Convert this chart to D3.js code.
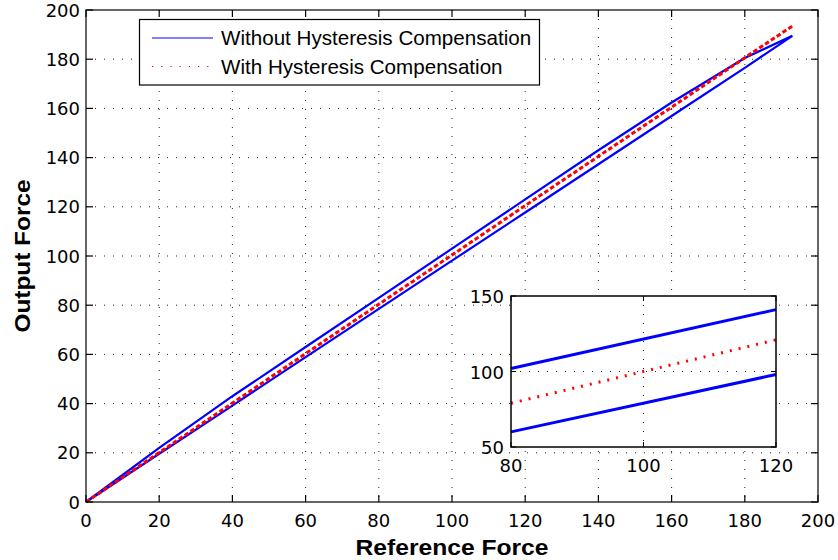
<!DOCTYPE html>
<html>
<head>
<meta charset="utf-8">
<script src="https://cdn.jsdelivr.net/npm/d3@7"></script>
<style>
  body { margin: 0; background: #fff; }
  text { font-family: "Liberation Sans", Arial, Helvetica, sans-serif; }
  .tick { font-family: "DejaVu Sans", sans-serif; font-size: 18px; }
</style>
</head>
<body>
<svg id="chart" width="838" height="560"></svg>
<script>
// main plot data
var refForce = [0, 20, 40, 60, 80, 100, 120, 140, 160, 180, 193];
var outLower = [0, 19.6, 39.2, 58.9, 78.5, 98.1, 117.7, 137.3, 156.9, 176.5, 189.5];
var outUpper = [0, 22, 43, 63, 83, 103, 123, 143, 162.4, 180.5, 189.5];
var outComp = [0, 20.1, 40.2, 60.3, 80.4, 100.4, 120.5, 140.5, 160.5, 180.6, 193.5];

// inset data
var insetRef = [80, 120];
var insetUpper = [102, 141];
var insetLower = [60, 98];
var insetComp = [79, 121];

var xTicks = [0, 20, 40, 60, 80, 100, 120, 140, 160, 180, 200];
var yTicks = [0, 20, 40, 60, 80, 100, 120, 140, 160, 180, 200];
var insetXTicks = [80, 100, 120];
var insetYTicks = [50, 100, 150];

var legendLabels = ["Without Hysteresis Compensation", "With Hysteresis Compensation"];

var svg = d3.select("#chart");
var pLeft = 86, pTop = 10, pRight = 818, pBottom = 502;

var x = d3.scaleLinear().domain([0, 200]).range([pLeft, pRight]);
var y = d3.scaleLinear().domain([0, 200]).range([pBottom, pTop]);

function pts(xs, ys) {
  return xs.map(function(v, i) { return [v, ys[i]]; });
}

// grid
var grid = svg.append("g").attr("stroke", "#222").attr("stroke-width", 1)
  .attr("stroke-dasharray", "1,8");
xTicks.slice(1, -1).forEach(function(t) {
  grid.append("line").attr("x1", x(t)).attr("x2", x(t)).attr("y1", pTop).attr("y2", pBottom);
});
yTicks.slice(1, -1).forEach(function(t) {
  grid.append("line").attr("x1", pLeft).attr("x2", pRight).attr("y1", y(t)).attr("y2", y(t));
});

var line = d3.line().x(function(d) { return x(d[0]); }).y(function(d) { return y(d[1]); });

// hysteresis loop: loading then unloading
var loop = pts(refForce, outLower).concat(pts(refForce, outUpper).reverse());
svg.append("path").attr("d", line(loop)).attr("fill", "none")
  .attr("stroke", "#0000ff").attr("stroke-width", 2.2);
svg.append("path").attr("d", line(pts(refForce, outComp))).attr("fill", "none")
  .attr("stroke", "#ff0000").attr("stroke-width", 3).attr("stroke-dasharray", "4.5,2.5");

// axes box with inward ticks on all sides
var axes = svg.append("g").attr("stroke", "#000").attr("stroke-width", 1.2);
axes.append("rect").attr("x", pLeft).attr("y", pTop).attr("width", pRight - pLeft).attr("height", pBottom - pTop)
  .attr("fill", "none");
xTicks.forEach(function(t) {
  axes.append("line").attr("x1", x(t)).attr("x2", x(t)).attr("y1", pBottom).attr("y2", pBottom - 7);
  axes.append("line").attr("x1", x(t)).attr("x2", x(t)).attr("y1", pTop).attr("y2", pTop + 7);
});
yTicks.forEach(function(t) {
  axes.append("line").attr("x1", pLeft).attr("x2", pLeft + 7).attr("y1", y(t)).attr("y2", y(t));
  axes.append("line").attr("x1", pRight).attr("x2", pRight - 7).attr("y1", y(t)).attr("y2", y(t));
});

svg.selectAll(".xlab").data(xTicks).enter().append("text").attr("class", "tick")
  .attr("x", function(d) { return x(d); }).attr("y", 527)
  .attr("text-anchor", "middle").text(function(d) { return d; });
svg.selectAll(".ylab").data(yTicks).enter().append("text").attr("class", "tick")
  .attr("x", 80).attr("y", function(d) { return y(d) + 6.5; })
  .attr("text-anchor", "end").text(function(d) { return d; });

svg.append("text").attr("x", (pLeft + pRight) / 2).attr("y", 555)
  .attr("text-anchor", "middle").attr("font-size", 22).attr("font-weight", "bold")
  .attr("textLength", 193).attr("lengthAdjust", "spacingAndGlyphs").text("Reference Force");
svg.append("text").attr("transform", "translate(30," + ((pTop + pBottom) / 2) + ") rotate(-90)")
  .attr("text-anchor", "middle").attr("font-size", 22).attr("font-weight", "bold")
  .attr("textLength", 153).attr("lengthAdjust", "spacingAndGlyphs").text("Output Force");

// legend
var lg = svg.append("g");
lg.append("rect").attr("x", 139.5).attr("y", 19.5).attr("width", 400).attr("height", 65.5)
  .attr("fill", "#fff").attr("stroke", "#000").attr("stroke-width", 1.2);
lg.append("line").attr("x1", 152).attr("x2", 213).attr("y1", 38).attr("y2", 38)
  .attr("stroke", "#0000ff").attr("stroke-width", 1);
lg.append("line").attr("x1", 152).attr("x2", 213).attr("y1", 66.5).attr("y2", 66.5)
  .attr("stroke", "#ff0000").attr("stroke-width", 1.2).attr("stroke-dasharray", "1.2,8");
lg.selectAll("text").data(legendLabels).enter().append("text")
  .attr("x", 221).attr("y", function(d, i) { return 45 + i * 29; })
  .attr("font-size", 20.6).text(function(d) { return d; });

// inset
var ix = d3.scaleLinear().domain([80, 120]).range([511, 776]);
var iy = d3.scaleLinear().domain([50, 150]).range([447, 296]);
var inset = svg.append("g");
inset.append("rect").attr("x", 511).attr("y", 296).attr("width", 265).attr("height", 151)
  .attr("fill", "#fff");
inset.append("line").attr("x1", ix(100)).attr("x2", ix(100)).attr("y1", 296).attr("y2", 447)
  .attr("stroke", "#222").attr("stroke-dasharray", "1,8");
inset.append("line").attr("x1", 511).attr("x2", 776).attr("y1", iy(100)).attr("y2", iy(100))
  .attr("stroke", "#222").attr("stroke-dasharray", "1,8");

var iline = d3.line().x(function(d) { return ix(d[0]); }).y(function(d) { return iy(d[1]); });
inset.append("path").attr("d", iline(pts(insetRef, insetUpper))).attr("fill", "none")
  .attr("stroke", "#0000ff").attr("stroke-width", 3);
inset.append("path").attr("d", iline(pts(insetRef, insetLower))).attr("fill", "none")
  .attr("stroke", "#0000ff").attr("stroke-width", 3);
inset.append("path").attr("d", iline(pts(insetRef, insetComp))).attr("fill", "none")
  .attr("stroke", "#ff0000").attr("stroke-width", 3).attr("stroke-dasharray", "2,7");

inset.append("rect").attr("x", 511).attr("y", 296).attr("width", 265).attr("height", 151)
  .attr("fill", "none").attr("stroke", "#000").attr("stroke-width", 1.5);
insetXTicks.forEach(function(t) {
  inset.append("line").attr("x1", ix(t)).attr("x2", ix(t)).attr("y1", 447).attr("y2", 442).attr("stroke", "#000");
  inset.append("line").attr("x1", ix(t)).attr("x2", ix(t)).attr("y1", 296).attr("y2", 301).attr("stroke", "#000");
});
insetYTicks.forEach(function(t) {
  inset.append("line").attr("x1", 511).attr("x2", 516).attr("y1", iy(t)).attr("y2", iy(t)).attr("stroke", "#000");
  inset.append("line").attr("x1", 776).attr("x2", 771).attr("y1", iy(t)).attr("y2", iy(t)).attr("stroke", "#000");
});
inset.selectAll(".ixl").data(insetXTicks).enter().append("text").attr("class", "tick")
  .attr("x", function(d) { return ix(d); }).attr("y", 472)
  .attr("text-anchor", "middle").text(function(d) { return d; });
inset.selectAll(".iyl").data(insetYTicks).enter().append("text").attr("class", "tick")
  .attr("x", 504).attr("y", function(d) { return iy(d) + 7; })
  .attr("text-anchor", "end").text(function(d) { return d; });
</script>
</body>
</html>
